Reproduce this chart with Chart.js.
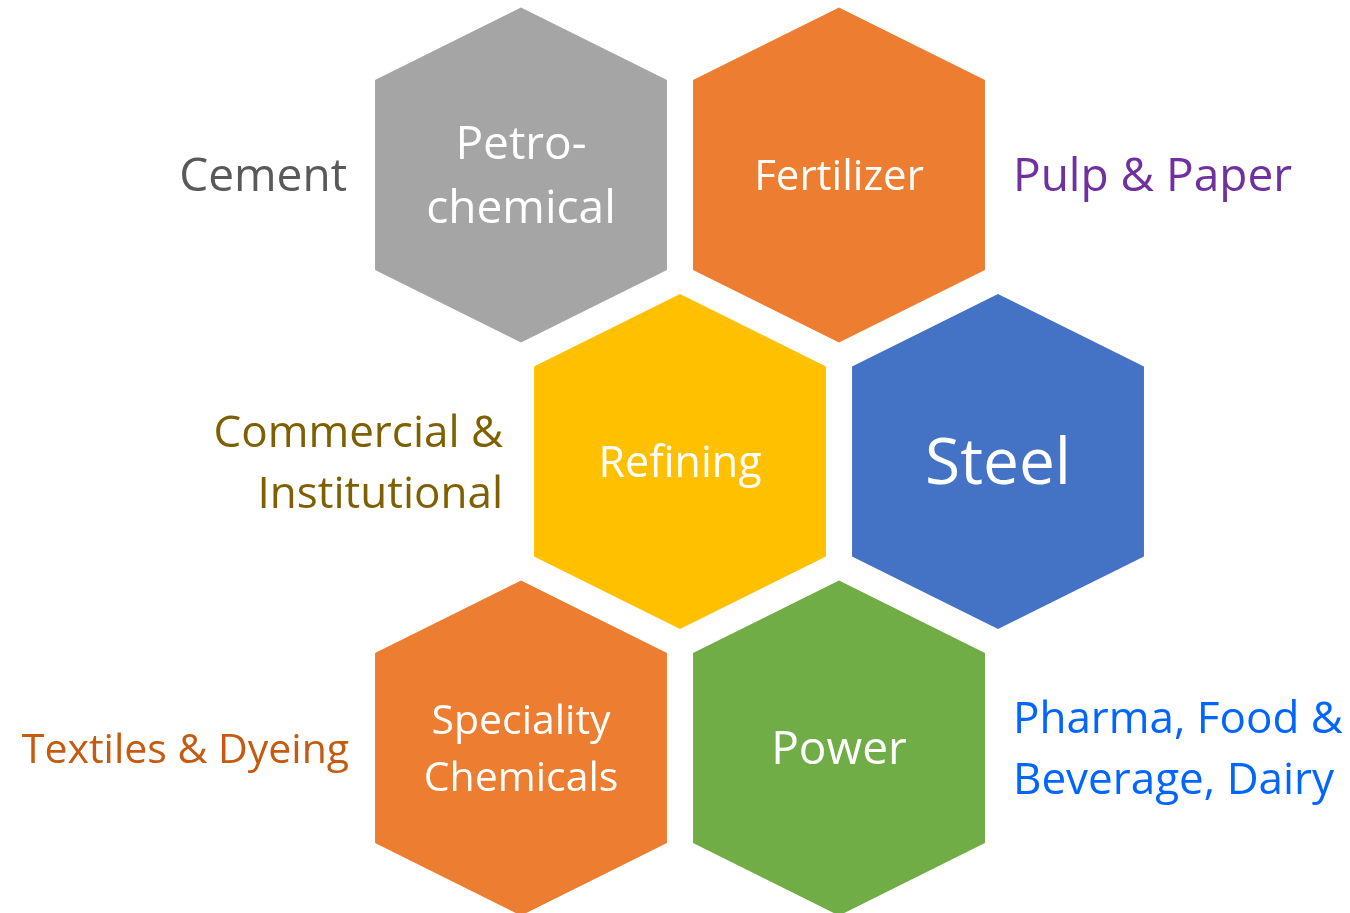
<!DOCTYPE html>
<html>
<head>
<meta charset="utf-8">
<script src="https://cdn.jsdelivr.net/npm/chart.js@4"></script>
<style>
  html, body { margin: 0; padding: 0; background: #fff; }
  #wrap { width: 1350px; height: 913px; }
</style>
</head>
<body>
<div id="wrap"><canvas id="hexChart"></canvas></div>
<script>
// Setores dentro dos hexágonos (coluna / linha da grade)
const sectors = ['Petro-\nchemical', 'Fertilizer', 'Refining', 'Steel', 'Speciality\nChemicals', 'Power'];
const sectorCol = [0, 1, 0.5, 1.5, 0, 1];
const sectorRow = [0, 0, 1, 1, 2, 2];

// Indústrias escritas ao lado dos hexágonos
const sideLabels = ['Cement', 'Pulp & Paper', 'Commercial &\nInstitutional', 'Textiles & Dyeing', 'Pharma, Food &\nBeverage, Dairy'];
const sideHex = [0, 1, 2, 4, 5];
const sideEdge = ['left', 'right', 'left', 'left', 'right'];

// Estilos
const hexColors = ['#A5A5A5', '#ED7D31', '#FFC000', '#4472C4', '#ED7D31', '#70AD47'];
const hexFontSizes = [46, 42, 43, 64, 41, 46];
const hexLineHeights = [64, 0, 0, 0, 57, 0];
const sideColors = ['#595959', '#7030A0', '#7F6000', '#C55A11', '#0066FF'];
const sideFontSizes = [46, 46, 44, 41, 44];
const sideLineHeights = [0, 0, 61, 0, 61];
const sideGaps = [28, 28, 31, 26, 28];
const FONT = "'Open Sans', sans-serif";
const HEX_HALF_W = 0.459;    // unidades de coluna
const HEX_HALF_H = 0.585;    // unidades de linha
const HEX_SHOULDER = 0.332;  // unidades de linha

function drawLines(ctx, text, x, cy, align, size, color, lh) {
    const lines = text.split('\n');
    const capH = size * 0.714;
    const step = lh || size * 1.35;
    let y = cy + capH / 2 - (lines.length - 1) * step / 2;
    ctx.font = size + 'px ' + FONT;
    ctx.fillStyle = color;
    ctx.textAlign = align;
    ctx.textBaseline = 'alphabetic';
    lines.forEach(line => {
        ctx.fillText(line, x, y);
        y += step;
    });
}

const hexPlugin = {
    id: 'hexPlugin',
    beforeDatasetsDraw(chart) {
        const ctx = chart.ctx;
        const xs = chart.scales.x;
        const ys = chart.scales.y;
        const meta = chart.getDatasetMeta(0);
        const hw = Math.abs(xs.getPixelForValue(HEX_HALF_W) - xs.getPixelForValue(0));
        const hh = Math.abs(ys.getPixelForValue(HEX_HALF_H) - ys.getPixelForValue(0));
        const sh = Math.abs(ys.getPixelForValue(HEX_SHOULDER) - ys.getPixelForValue(0));

        ctx.save();
        meta.data.forEach((pt, i) => {
            ctx.beginPath();
            ctx.moveTo(pt.x, pt.y - hh);
            ctx.lineTo(pt.x + hw, pt.y - sh);
            ctx.lineTo(pt.x + hw, pt.y + sh);
            ctx.lineTo(pt.x, pt.y + hh);
            ctx.lineTo(pt.x - hw, pt.y + sh);
            ctx.lineTo(pt.x - hw, pt.y - sh);
            ctx.closePath();
            ctx.fillStyle = hexColors[i];
            ctx.fill();
            drawLines(ctx, sectors[i], pt.x, pt.y, 'center', hexFontSizes[i], '#FFFFFF', hexLineHeights[i]);
        });

        sideLabels.forEach((label, i) => {
            const pt = meta.data[sideHex[i]];
            const left = sideEdge[i] === 'left';
            const x = left ? pt.x - hw - sideGaps[i] : pt.x + hw + sideGaps[i];
            drawLines(ctx, label, x, pt.y, left ? 'right' : 'left', sideFontSizes[i], sideColors[i], sideLineHeights[i]);
        });
        ctx.restore();
    }
};

const ctx = document.getElementById('hexChart').getContext('2d');
const hexChart = new Chart(ctx, {
    type: 'scatter',
    data: {
        datasets: [{
            label: 'Sectors',
            data: sectors.map((s, i) => ({ x: sectorCol[i], y: sectorRow[i] })),
            pointRadius: 0,
            pointHoverRadius: 0
        }]
    },
    options: {
        responsive: true,
        maintainAspectRatio: false,
        animation: false,
        layout: { padding: 0 },
        plugins: {
            legend: { display: false },
            tooltip: { enabled: false }
        },
        scales: {
            x: { type: 'linear', display: false, min: -1.6384, max: 2.6069 },
            y: { type: 'linear', display: false, reverse: true, min: -0.6108, max: 2.5759 }
        }
    },
    plugins: [hexPlugin]
});
</script>
</body>
</html>
